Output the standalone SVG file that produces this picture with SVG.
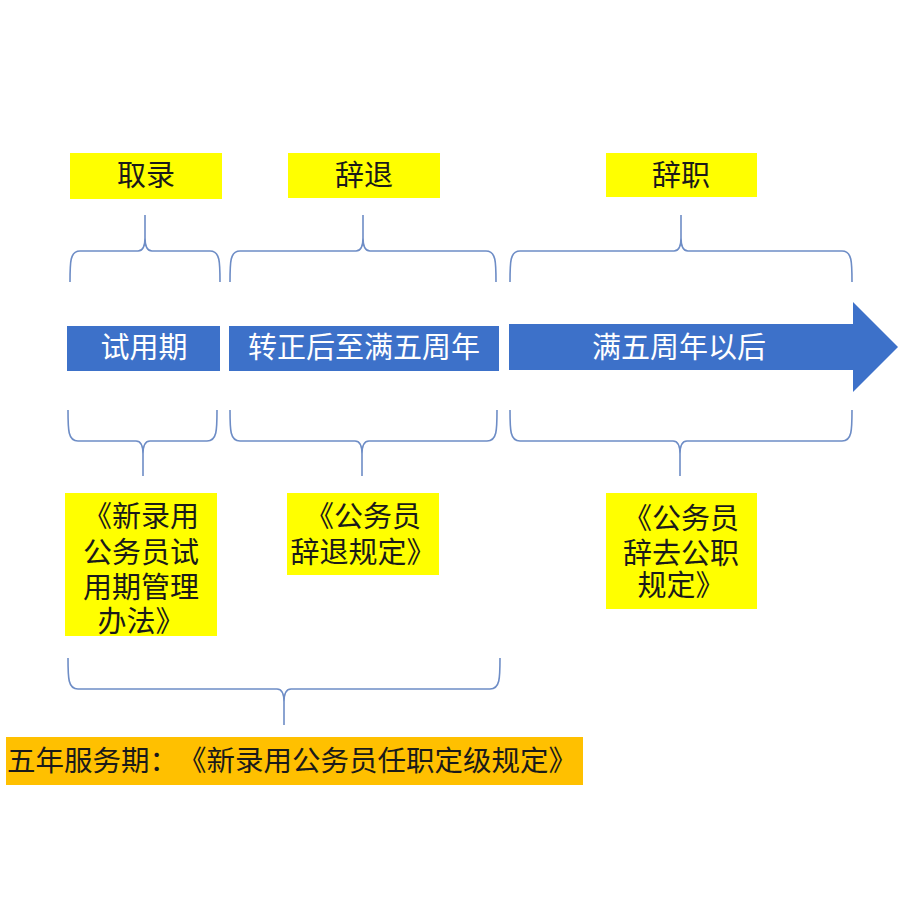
<svg xmlns="http://www.w3.org/2000/svg" width="908" height="912" viewBox="0 0 908 912">
<style>
text{font-family:"Noto Sans CJK SC","Noto Sans",sans-serif;font-size:29px;text-anchor:middle;text-spacing-trim:space-all}
.y{fill:#FFFF00}
.o{fill:#FFC000}
.b{fill:#3D71C9}
.dk{fill:#1a1a1a}
.wt{fill:#ffffff}
.br{fill:none;stroke:#6E8DC6;stroke-width:1.6}
</style>
<rect width="908" height="912" fill="#ffffff"/>
<g id="label-quluo"><rect class="y" x="70" y="153" width="152" height="46"/><text class="dk" x="146" y="186">取录</text></g>
<g id="label-citui"><rect class="y" x="288" y="153" width="152" height="45"/><text class="dk" x="364" y="186">辞退</text></g>
<g id="label-cizhi"><rect class="y" x="606" y="153" width="151" height="44"/><text class="dk" x="681" y="186">辞职</text></g>
<g id="bar-probation"><rect class="b" x="67" y="326" width="153" height="45"/><text class="wt" x="144" y="358">试用期</text></g>
<g id="bar-regular"><rect class="b" x="229" y="326" width="270" height="45"/><text class="wt" x="364" y="358">转正后至满五周年</text></g>
<g id="bar-after"><polygon class="b" points="509,324 853,324 853,302 898,347 853,392 853,370 509,370"/><text class="wt" x="679" y="358">满五周年以后</text></g>
<g id="doc-probation"><rect class="y" x="65" y="493" width="152" height="143"/>
<text class="dk" x="141" y="527">《新录用</text><text class="dk" x="141" y="563">公务员试</text><text class="dk" x="141" y="598">用期管理</text><text class="dk" x="141" y="632">办法》</text></g>
<g id="doc-citui"><rect class="y" x="287" y="493" width="152" height="82"/>
<text class="dk" x="363" y="527">《公务员</text><text class="dk" x="363" y="563">辞退规定》</text></g>
<g id="doc-cizhi"><rect class="y" x="606" y="493" width="151" height="116"/>
<text class="dk" x="681" y="529">《公务员</text><text class="dk" x="681" y="564">辞去公职</text><text class="dk" x="681" y="596">规定》</text></g>
<g id="service-period"><rect class="o" x="6" y="737" width="577" height="48"/>
<text class="dk" x="292" y="771" style="font-size:28.5px">五年服务期：《新录用公务员任职定级规定》</text></g>
<g id="connectors">
<path class="br" d="M70 282 C70 262 70 251 80 251 L138 251 C143 251 145 246 145 238 L145 215 M145 238 C145 246 147 251 152 251 L210 251 C220 251 220 262 220 282"/>
<path class="br" d="M230 282 C230 262 230 251 240 251 L356 251 C361 251 363 246 363 238 L363 215 M363 238 C363 246 365 251 370 251 L486 251 C496 251 496 262 496 282"/>
<path class="br" d="M510 282 C510 262 510 251 520 251 L674 251 C679 251 681 246 681 238 L681 215 M681 238 C681 246 683 251 688 251 L842 251 C852 251 852 262 852 282"/>
<path class="br" d="M68 410 C68 430 68 441 78 441 L136 441 C141 441 143 446 143 454 L143 476 M143 454 C143 446 145 441 150 441 L207 441 C217 441 217 430 217 410"/>
<path class="br" d="M230 410 C230 430 230 441 240 441 L355 441 C360 441 362 446 362 454 L362 476 M362 454 C362 446 364 441 369 441 L487 441 C497 441 497 430 497 410"/>
<path class="br" d="M510 410 C510 430 510 441 520 441 L673 441 C678 441 680 446 680 454 L680 476 M680 454 C680 446 682 441 687 441 L842 441 C852 441 852 430 852 410"/>
<path class="br" d="M68 658 C68 678 68 689 78 689 L277 689 C282 689 284 694 284 702 L284 725 M284 702 C284 694 286 689 291 689 L490 689 C500 689 500 678 500 658"/>
</g>
</svg>
